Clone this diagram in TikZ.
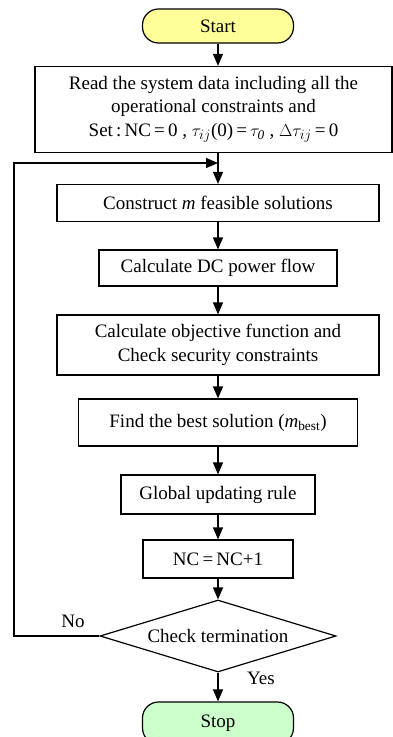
\documentclass[tikz,border=0pt]{standalone}
\usepackage{fontspec}
\setmainfont{Liberation Serif}
\usetikzlibrary{shapes.geometric,arrows.meta}

\definecolor{startyellow}{HTML}{FFFF99}
\definecolor{stopgreen}{HTML}{CCFFCC}

\tikzset{
  box/.style={draw, line width=1.2pt, align=center, inner sep=0pt,
    font=\fontsize{19}{23.5}\selectfont},
  term/.style={box, rounded corners=16pt, minimum width=151pt},
  decide/.style={box, diamond, aspect=3.3},
  arr/.style={line width=1.2pt, -{Triangle[width=10pt,length=12pt]}},
  lbl/.style={font=\fontsize{19}{22}\selectfont}
}

\begin{document}
\begin{tikzpicture}[x=1pt,y=-1pt]

    % Define parameters
    \def\xmid{218}

    \useasboundingbox (0,0) rectangle (393,737);

    % Blocks
    \node[term, fill=startyellow, minimum height=34pt] (start) at (\xmid,26) {Start};
    \node[box, minimum width=357pt, minimum height=86pt] (read) at (213.5,109.5)
      {Read the system data including all the\\ operational constraints and\\
       Set\,:\,NC\,=\,0 , $\tau_{ij}$(0)\,=\,$\tau_{\mathit{0}}$ , $\Delta\tau_{ij}$\,=\,0};
    \node[box, minimum width=322pt, minimum height=37pt] (construct) at (\xmid,203)
      {Construct \textit{m} feasible solutions};
    \node[box, minimum width=238pt, minimum height=36pt] (dcflow) at (\xmid,268)
      {Calculate DC power flow};
    \node[box, minimum width=322pt, minimum height=60pt] (objective) at (\xmid,345)
      {Calculate objective function and\\ Check security constraints};
    \node[box, minimum width=279pt, minimum height=47pt] (best) at (\xmid,422.5)
      {Find the best solution (\textit{m}$_{\mathrm{best}}$)};
    \node[box, minimum width=194pt, minimum height=39pt] (global) at (\xmid,494.5)
      {Global updating rule};
    \node[box, minimum width=150pt, minimum height=38pt] (counter) at (\xmid,559)
      {NC\,=\,NC+1};
    \node[decide, minimum width=236pt, minimum height=72pt] (check) at (\xmid,636)
      {Check termination};
    \node[term, fill=stopgreen, minimum height=42pt] (stop) at (\xmid,723) {Stop};

    % Flow
    \draw[arr] (start) -- (start |- read.north);
    \draw[arr] (start |- read.south) -- (construct);
    \draw[arr] (construct) -- (dcflow);
    \draw[arr] (dcflow) -- (objective);
    \draw[arr] (objective) -- (best);
    \draw[arr] (best) -- (global);
    \draw[arr] (global) -- (counter);
    \draw[arr] (counter) -- (check);
    \draw[arr] (check) -- (stop);

    % Loop back
    \coordinate (loopcorner) at (14,163);
    \coordinate (loopjoin) at (\xmid,163);
    \draw[arr] (check.west) -| (loopcorner) -- (loopjoin);

    \node[lbl] (nolabel) at (73,621) {No};
    \node[lbl] (yeslabel) at (261,678) {Yes};
\end{tikzpicture}
\end{document}
